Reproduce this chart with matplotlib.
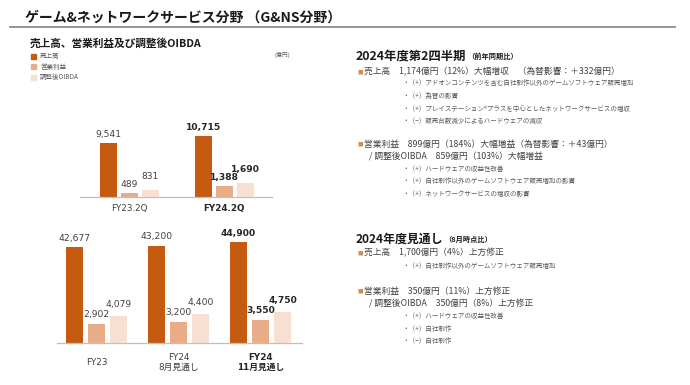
import matplotlib
matplotlib.use("Agg")
import matplotlib.pyplot as plt
import numpy as np

plt.rcParams['font.family'] = ['Noto Sans CJK JP', 'DejaVu Sans']

# ---------------- data ----------------
q_categories = ["FY23.2Q", "FY24.2Q"]
q_sales = [9541, 10715]
q_op = [489, 1388]
q_oibda = [831, 1690]

y_categories = ["FY23", "FY24\n8月見通し", "FY24\n11月見通し"]
y_sales = [42677, 43200, 44900]
y_op = [2902, 3200, 3550]
y_oibda = [4079, 4400, 4750]

legend_labels = ["売上高", "営業利益", "調整後OIBDA"]
unit_label = "(億円)"
title = "ゲーム&ネットワークサービス分野 （G&NS分野）"
subtitle = "売上高、営業利益及び調整後OIBDA"

C_SALES = "#C55A11"
C_OP = "#E8AD88"
C_OIBDA = "#F7DFD2"
C_TEXT = "#404040"

W, H = 690, 385
fig = plt.figure(figsize=(W / 100, H / 100), dpi=100)
fig.patch.set_facecolor("white")
renderer = fig.canvas.get_renderer()


def fx(x):
    return x / W


def fy(y):
    return 1 - y / H


def make_axes(x0, x1, ybase, ytop):
    return fig.add_axes([fx(x0), fy(ybase), (x1 - x0) / W, (ybase - ytop) / H])


def style(ax, show_bottom):
    for s in ax.spines.values():
        s.set_visible(False)
    if show_bottom:
        ax.spines['bottom'].set_visible(True)
        ax.spines['bottom'].set_color("#BFBFBF")
        ax.spines['bottom'].set_linewidth(0.9)
    ax.set_xticks([])
    ax.set_yticks([])
    ax.patch.set_alpha(0)


def draw_chart(x0, x1, ybase, ytop, cats, sales, op, oibda, sales_top, prof_top,
               xlim, width, offset, bold_idx, label_dy, pads):
    ax = make_axes(x0, x1, ybase, ytop)
    ax2 = ax.twinx()
    style(ax, True)
    style(ax2, False)
    x = np.arange(len(cats))
    b1 = ax.bar(x - offset, sales, width, color=C_SALES)
    b2 = ax2.bar(x, op, width, color=C_OP)
    b3 = ax2.bar(x + offset, oibda, width, color=C_OIBDA)
    ax.set_xlim(*xlim)
    ax2.set_xlim(*xlim)
    ax.set_ylim(0, sales_top)
    ax2.set_ylim(0, prof_top)
    for bars, a, pad in ((b1, ax, pads[0]), (b2, ax2, pads[1]), (b3, ax2, pads[2])):
        texts = a.bar_label(bars, labels=[f"{v:,}" for v in bars.datavalues],
                            padding=pad, fontsize=6.6, color=C_TEXT,
                            family=['DejaVu Sans', 'Noto Sans CJK JP'])
        for i, t in enumerate(texts):
            if i in bold_idx:
                t.set_fontweight('bold')
                t.set_color("#262626")
    for i, c in enumerate(cats):
        ax.annotate(c, xy=(x[i], 0), xycoords=('data', 'axes fraction'),
                    xytext=(0, -label_dy * 0.72), textcoords='offset points',
                    ha='center', va='center', fontsize=6.3,
                    color="#262626" if i in bold_idx else C_TEXT,
                    fontweight='bold' if i in bold_idx else 'normal',
                    linespacing=1.25,
                    family=['DejaVu Sans', 'Noto Sans CJK JP'])
    return ax


# top chart (quarter)
draw_chart(80, 272, 197, 120, q_categories, q_sales, q_op, q_oibda,
           sales_top=77 / 0.00566, prof_top=77 / 0.0081,
           xlim=(-0.521, 1.5), width=17 / 95, offset=21 / 95,
           bold_idx={1}, label_dy=12, pads=(3.2, 3.0, 6.4))

# bottom chart (full year)
draw_chart(57, 302, 343, 225, y_categories, y_sales, y_op, y_oibda,
           sales_top=118 / 0.00225, prof_top=118 / 0.0066,
           xlim=(-0.482, 2.506), width=17 / 82, offset=22 / 82,
           bold_idx={2}, label_dy=19.5, pads=(3.2, 3.2, 5.0))

# ---------------- header ----------------
fig.text(fx(25), fy(18), title, fontsize=10.0, fontweight='bold',
         color="#1A1A1A", va='center', ha='left')
fig.add_artist(plt.Line2D([fx(10), fx(675)], [fy(27), fy(27)],
                          color="#8C8C8C", lw=1.3, transform=fig.transFigure))
fig.text(fx(30), fy(43), subtitle, fontsize=7.7, fontweight='bold',
         color="#1A1A1A", va='center', ha='left')

# legend
for i, (lab, col) in enumerate(zip(legend_labels, [C_SALES, C_OP, C_OIBDA])):
    yy = [56, 66.5, 77][i]
    fig.patches.append(plt.Rectangle((fx(31), fy(yy + 2.5)), 5 / W, 5 / H,
                                     color=col, transform=fig.transFigure))
    fig.text(fx(40), fy(yy), lab, fontsize=4.7, color="#595959",
             va='center', ha='left')
fig.text(fx(282), fy(55), unit_label, fontsize=4.2, color="#595959",
         va='center', ha='center')

# ---------------- right text panel ----------------
BUL = "#D08A4A"
MAIN = 6.3
SUB = 4.7


def header(y, t1, t2, size):
    a = fig.text(fx(356), fy(y), t1, fontsize=size, fontweight='bold',
                 color="#1A1A1A", va='center', ha='left')
    bb = a.get_window_extent(renderer=renderer)
    fig.text(bb.x1 / W + 1 / W, fy(y + 0.5), t2, fontsize=5.2, fontweight='bold',
             color="#1A1A1A", va='center', ha='left')


def main_line(y, t, bullet=True, x=364):
    if bullet:
        fig.text(fx(357), fy(y), "■", fontsize=4.0, color=BUL,
                 va='center', ha='left')
    fig.text(fx(x), fy(y), t, fontsize=MAIN, color=C_TEXT,
             va='center', ha='left')


def sub_line(y, t):
    fig.text(fx(402), fy(y), t, fontsize=SUB, color="#595959",
             va='center', ha='left')


header(56, "2024年度第2四半期", "（前年同期比）", 8.9)
main_line(72, "売上高　1,174億円（12%）大幅増収　（為替影響：＋332億円）")
sub_line(83.5, "・（+）アドオンコンテンツを含む自社制作以外のゲームソフトウェア販売増加")
sub_line(96, "・（+）為替の影響")
sub_line(108.5, "・（+）プレイステーション®プラスを中心としたネットワークサービスの増収")
sub_line(121, "・（−）販売台数減少によるハードウェアの減収")
main_line(144, "営業利益　899億円（184%）大幅増益（為替影響：＋43億円）")
main_line(157, "/ 調整後OIBDA　859億円（103%）大幅増益", bullet=False, x=369)
sub_line(168.5, "・（+）ハードウェアの収益性改善")
sub_line(181.5, "・（+）自社制作以外のゲームソフトウェア販売増加の影響")
sub_line(194, "・（+）ネットワークサービスの増収の影響")

header(239, "2024年度見通し", "（8月時点比）", 8.6)
main_line(253, "売上高　1,700億円（4%）上方修正")
sub_line(266, "・（+）自社制作以外のゲームソフトウェア販売増加")
main_line(291, "営業利益　350億円（11%）上方修正")
main_line(303.5, "/ 調整後OIBDA　350億円（8%）上方修正", bullet=False, x=369)
sub_line(316, "・（+）ハードウェアの収益性改善")
sub_line(328.5, "・（+）自社制作")
sub_line(341, "・（−）自社制作")

fig.savefig("out.png", dpi=100, facecolor="white")
